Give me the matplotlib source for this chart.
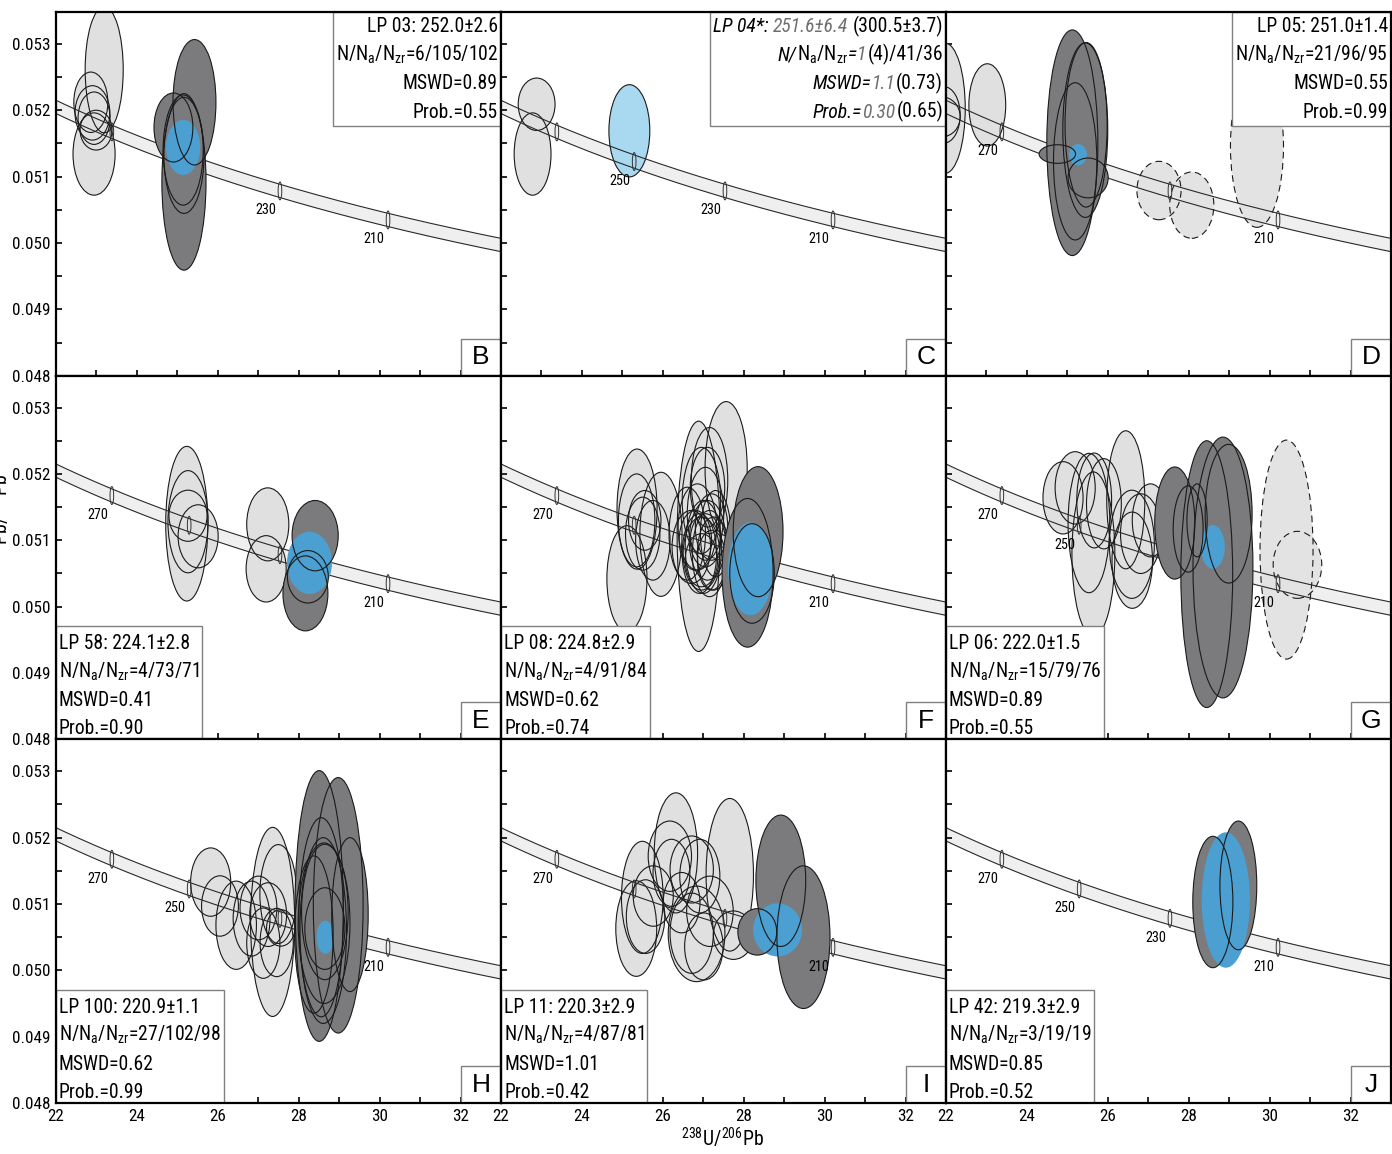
import numpy as np
import matplotlib
matplotlib.use("Agg")
import matplotlib.pyplot as plt
from matplotlib import font_manager as fm
from matplotlib.patches import Ellipse, Rectangle
from matplotlib.transforms import offset_copy
from matplotlib.ticker import MultipleLocator, FormatStrFormatter, NullFormatter

# decay constants (1/yr) and 238U/235U, for the Tera-Wasserburg concordia
L238 = 1.55125e-10
L235 = 9.8485e-10
U_RATIO = 137.818
BAND = 0.0001

PANELS = ["B", "C", "D", "E", "F", "G", "H", "I", "J"]

# ellipses: (238U/206Pb, 207Pb/206Pb, full width in x, full height in y)
B_LIGHT = [(23.19, 0.05261, 0.94, 0.00190), (22.94, 0.05134, 1.04, 0.00124),
           (22.86, 0.05212, 0.84, 0.00091), (22.90, 0.05196, 0.86, 0.00082),
           (22.94, 0.05188, 0.79, 0.00079), (22.99, 0.05170, 0.79, 0.00060)]
B_DARK = [(25.16, 0.05092, 1.09, 0.00266), (25.42, 0.05212, 1.06, 0.00189),
          (24.90, 0.05174, 0.96, 0.00104), (25.14, 0.05140, 0.99, 0.00166),
          (25.16, 0.05132, 0.99, 0.00175)]
C_LIGHT = [(22.78, 0.05134, 0.91, 0.00124), (22.88, 0.05209, 0.91, 0.00079)]
C_DARK = []
D_LIGHT = [(21.98, 0.05203, 0.99, 0.00196), (21.95, 0.05193, 0.80, 0.00085),
           (21.90, 0.05190, 0.90, 0.00060), (23.02, 0.05208, 0.91, 0.00124)]
D_DASHED = [(27.26, 0.05079, 1.09, 0.00088), (28.07, 0.05057, 1.09, 0.00100),
            (29.68, 0.05146, 1.31, 0.00245)]
D_DARK = [(24.75, 0.05134, 0.90, 0.00028), (25.12, 0.05151, 1.26, 0.00340),
          (25.19, 0.05123, 1.07, 0.00237), (25.44, 0.05170, 1.11, 0.00263),
          (25.46, 0.05178, 1.04, 0.00248), (25.51, 0.05098, 0.99, 0.00060)]
E_LIGHT = [(25.23, 0.05125, 1.04, 0.00233), (25.26, 0.05128, 0.99, 0.00154),
           (25.26, 0.05137, 0.94, 0.00077), (25.51, 0.05106, 0.99, 0.00095),
           (27.23, 0.05124, 1.04, 0.00110), (27.19, 0.05057, 0.99, 0.00100)]
E_DARK = [(28.40, 0.05107, 1.14, 0.00106), (28.16, 0.05020, 1.11, 0.00113),
          (28.22, 0.05045, 1.01, 0.00079)]
F_LIGHT = [(25.36, 0.05147, 0.99, 0.00181), (25.11, 0.05042, 0.99, 0.00160),
           (25.95, 0.05109, 1.04, 0.00187), (25.35, 0.05130, 0.90, 0.00140),
           (25.50, 0.05110, 0.85, 0.00110), (25.55, 0.05130, 0.80, 0.00090),
           (25.75, 0.05100, 0.85, 0.00120), (27.56, 0.05208, 1.04, 0.00202),
           (26.88, 0.05106, 1.06, 0.00347),
           (26.95, 0.05160, 0.95, 0.00160), (27.05, 0.05140, 0.90, 0.00140),
           (26.85, 0.05120, 0.95, 0.00130), (27.10, 0.05100, 0.90, 0.00120),
           (26.90, 0.05080, 0.85, 0.00120), (27.15, 0.05080, 0.85, 0.00130),
           (27.00, 0.05090, 0.90, 0.00140), (26.70, 0.05090, 0.95, 0.00110),
           (27.20, 0.05120, 0.80, 0.00100), (26.80, 0.05100, 0.80, 0.00090),
           (27.05, 0.05100, 0.75, 0.00080), (27.25, 0.05080, 0.80, 0.00110),
           (26.95, 0.05080, 0.90, 0.00110), (27.30, 0.05110, 0.75, 0.00130),
           (26.60, 0.05110, 0.90, 0.00140), (27.10, 0.05180, 0.85, 0.00120),
           (26.95, 0.05070, 0.80, 0.00080), (27.20, 0.05070, 0.70, 0.00090),
           (27.15, 0.05190, 0.90, 0.00160)]
F_DARK = [(28.09, 0.05051, 1.26, 0.00224), (28.35, 0.05113, 1.23, 0.00196),
          (28.20, 0.05050, 1.10, 0.00150)]
G_LIGHT = [(25.64, 0.05079, 1.06, 0.00248), (26.44, 0.05161, 0.94, 0.00208),
           (24.89, 0.05164, 0.99, 0.00109), (25.19, 0.05179, 0.99, 0.00109),
           (25.53, 0.05126, 1.03, 0.00210), (25.66, 0.05160, 0.86, 0.00143),
           (25.90, 0.05155, 0.86, 0.00136), (26.59, 0.05094, 1.11, 0.00163),
           (26.60, 0.05070, 1.00, 0.00145), (26.81, 0.05110, 1.00, 0.00120),
           (27.05, 0.05130, 0.90, 0.00110)]
G_DASHED = [(30.41, 0.05086, 1.31, 0.00330), (30.68, 0.05063, 1.20, 0.00101)]
G_DARK = [(27.65, 0.05126, 0.99, 0.00169), (27.98, 0.05117, 0.74, 0.00130),
          (28.20, 0.05130, 0.50, 0.00110), (28.44, 0.05049, 1.28, 0.00402),
          (28.84, 0.05059, 1.48, 0.00393), (28.98, 0.05140, 1.16, 0.00209)]
H_LIGHT = [(25.82, 0.05133, 0.99, 0.00103), (26.05, 0.05097, 0.91, 0.00091),
           (26.45, 0.05068, 1.00, 0.00133), (26.83, 0.05078, 0.91, 0.00113),
           (27.00, 0.05094, 0.91, 0.00096), (27.35, 0.05073, 1.09, 0.00285),
           (27.12, 0.05041, 0.82, 0.00106), (27.49, 0.05115, 0.91, 0.00149),
           (27.45, 0.05042, 0.82, 0.00103), (27.24, 0.05084, 0.91, 0.00096),
           (27.55, 0.05064, 0.70, 0.00055)]
H_DARK = [(28.50, 0.05097, 1.19, 0.00408), (28.97, 0.05098, 1.23, 0.00385),
          (29.26, 0.05084, 0.90, 0.00232), (28.62, 0.05071, 1.28, 0.00242),
          (28.64, 0.05088, 1.15, 0.00204), (28.64, 0.05063, 0.99, 0.00123),
          (28.37, 0.05054, 0.95, 0.00237), (28.55, 0.05080, 1.10, 0.00300),
          (28.60, 0.05060, 1.15, 0.00280)]
I_LIGHT = [(26.32, 0.05177, 1.07, 0.00181), (27.65, 0.05144, 1.17, 0.00230),
           (25.49, 0.05110, 1.03, 0.00169), (25.34, 0.05063, 1.01, 0.00144),
           (26.83, 0.05055, 1.40, 0.00144), (27.74, 0.05053, 0.99, 0.00073),
           (26.17, 0.05172, 1.07, 0.00106), (26.21, 0.05147, 0.91, 0.00101),
           (26.71, 0.05152, 1.07, 0.00101), (26.91, 0.05142, 0.99, 0.00111),
           (26.46, 0.05102, 0.91, 0.00091), (26.71, 0.05056, 1.07, 0.00121),
           (27.01, 0.05036, 0.95, 0.00101), (25.57, 0.05081, 0.95, 0.00111),
           (25.76, 0.05112, 0.99, 0.00091), (27.16, 0.05089, 1.15, 0.00106)]
I_DARK = [(28.91, 0.05135, 1.23, 0.00198), (29.47, 0.05050, 1.31, 0.00215),
          (28.33, 0.05058, 0.96, 0.00070)]
J_LIGHT = []
J_DARK = [(28.59, 0.05103, 0.99, 0.00198), (29.22, 0.05128, 0.91, 0.00194)]

LIGHT = [B_LIGHT, C_LIGHT, D_LIGHT, E_LIGHT, F_LIGHT, G_LIGHT, H_LIGHT, I_LIGHT, J_LIGHT]
DASHED = [[], [], D_DASHED, [], [], G_DASHED, [], [], []]
DARK = [B_DARK, C_DARK, D_DARK, E_DARK, F_DARK, G_DARK, H_DARK, I_DARK, J_DARK]
# weighted mean ellipse of each panel
MEANS = [(25.14, 0.05144, 0.84, 0.00083), (25.17, 0.05169, 1.01, 0.00139),
         (25.26, 0.05133, 0.44, 0.00032), (28.26, 0.05066, 1.11, 0.00094),
         (28.16, 0.05057, 1.11, 0.00140), (28.59, 0.05090, 0.59, 0.00066),
         (28.65, 0.05050, 0.43, 0.00050), (28.83, 0.05061, 1.21, 0.00080),
         (28.91, 0.05106, 1.19, 0.00204)]

AGE_TICKS = [270, 250, 230, 210]
AGE_LABELS = [[230, 210], [250, 230, 210], [270, 210], [270, 210], [270, 210],
              [270, 250, 210], [270, 250, 210], [270, 210], [270, 250, 230, 210]]

SAMPLES = ["LP 03", "LP 04*", "LP 05", "LP 58", "LP 08", "LP 06", "LP 100", "LP 11", "LP 42"]
AGES = ["252.0±2.6", "251.6±6.4", "251.0±1.4", "224.1±2.8", "224.8±2.9",
        "222.0±1.5", "220.9±1.1", "220.3±2.9", "219.3±2.9"]
COUNTS = ["6/105/102", "1", "21/96/95", "4/73/71", "4/91/84",
          "15/79/76", "27/102/98", "4/87/81", "3/19/19"]
MSWD = ["0.89", "1.1", "0.55", "0.41", "0.62", "0.89", "0.62", "1.01", "0.85"]
PROB = ["0.55", "0.30", "0.99", "0.90", "0.74", "0.55", "0.99", "0.42", "0.52"]
# second (bracketed) solution of LP 04
C_ALT_AGE = "300.5±3.7"
C_ALT_COUNTS = "(4)/41/36"
C_ALT_MSWD = "0.73"
C_ALT_PROB = "0.65"

LIGHT_C = '#e0e0e0'
DARK_C = '#7b7b7d'
BLUE_C = '#4b9fd1'
PALE_BLUE = '#a9d8f1'
EDGE = '#1a1a1a'
NSUB = 'N/N$_a$/N$_{zr}$='

# pick a narrow face if one is installed, else Liberation Sans
fonts = [(f.name, f.stretch) for f in fm.fontManager.ttflist]
names = {n for n, s in fonts}
narrow = None
for cand in ['Liberation Sans Narrow', 'Roboto Condensed', 'Open Sans Condensed',
             'Noto Sans Condensed', 'DejaVu Sans Condensed', 'Arial Narrow']:
    if cand in names:
        narrow = (cand, 'normal')
        break
if narrow is None:
    for n, s in fonts:
        if n in ('DejaVu Sans', 'Noto Sans', 'Roboto', 'Open Sans', 'Liberation Sans') \
                and str(s) in ('condensed', 'semi-condensed', 'extra-condensed'):
            narrow = (n, s)
            break
if narrow is None:
    narrow = ('Liberation Sans', 'normal')
plt.rcParams['font.family'] = [narrow[0], 'DejaVu Sans']
plt.rcParams['font.stretch'] = narrow[1]
plt.rcParams['mathtext.default'] = 'regular'

fig = plt.figure(figsize=(13.92, 11.54), dpi=100)
renderer = fig.canvas.get_renderer()
W, H = 1392.0, 1154.0
COL_X = [56, 501, 946]
ROW_Y = [12, 375.7, 739.4]
AW, AH = 445, 363.7


def fit_size(s, target):
    t = fig.text(0, 0, s, fontsize=10)
    w = t.get_window_extent(renderer).width
    t.remove()
    return 10 * target / w


FS_BOX = min(fit_size('LP 03: 252.0±2.6', 130), 16)
FS_TICK = min(fit_size('0.053', 38), 14)
FS_AGE = min(fit_size('230', 21), 12)
FS_LABEL = min(fit_size('$^{238}$U/$^{206}$Pb', 84), 19)

t = np.linspace(180e6, 300e6, 400)
cx = 1 / np.expm1(L238 * t)
cy = np.expm1(L235 * t) / np.expm1(L238 * t) / U_RATIO


def conc(age):
    tt = age * 1e6
    return 1 / np.expm1(L238 * tt), np.expm1(L235 * tt) / np.expm1(L238 * tt) / U_RATIO


def ellipses(ax, data, fc, z, ls='-'):
    for x, y, w, h in data:
        ax.add_patch(Ellipse((x, y), w, h, fc=fc, ec='none', zorder=z))
    for x, y, w, h in data:
        ax.add_patch(Ellipse((x, y), w, h, fill=False, ec=EDGE, lw=0.8, ls=ls, zorder=z + 0.2))


def text_box(ax, lines, top):
    step = 28.5
    pad = 3
    widths = []
    n = len(lines)
    for i, pieces in enumerate(lines):
        if top:
            x, y = -pad, -(20 + i * step)
            for s, style, color, gap in reversed(pieces):
                tr = offset_copy(ax.transAxes, fig=fig, x=x, y=y, units='dots')
                tx = ax.text(1, 1, s, transform=tr, ha='right', va='baseline',
                             fontsize=FS_BOX, fontstyle=style, color=color, zorder=10)
                x -= tx.get_window_extent(renderer).width + gap
            widths.append(-x)
        else:
            x, y = pad, 5 + (n - 1 - i) * step
            for s, style, color, gap in pieces:
                x += gap
                tr = offset_copy(ax.transAxes, fig=fig, x=x, y=y, units='dots')
                tx = ax.text(0, 0, s, transform=tr, ha='left', va='baseline',
                             fontsize=FS_BOX, fontstyle=style, color=color, zorder=10)
                x += tx.get_window_extent(renderer).width
            widths.append(x)
    bw = (max(widths) + 3) / AW
    bh = (20 + (n - 1) * step + 8) / AH
    xy = (1 - bw, 1 - bh) if top else (0, 0)
    ax.add_patch(Rectangle(xy, bw, bh, transform=ax.transAxes, fc='white',
                           ec='#808080', lw=1, zorder=9))


for k, name in enumerate(PANELS):
    r, c = divmod(k, 3)
    ax = fig.add_axes([COL_X[c] / W, 1 - (ROW_Y[r] + AH) / H, AW / W, AH / H])
    ax.set_xlim(22, 32.99)
    ax.set_ylim(0.048, 0.05348)

    # concordia band
    ax.fill_between(cx, cy - BAND, cy + BAND, color='#efefef', lw=0, zorder=1)
    ellipses(ax, LIGHT[k], LIGHT_C, 2)
    ellipses(ax, DASHED[k], '#e3e3e3', 2, ls=(0, (6, 4)))
    mx, my, mw, mh = MEANS[k]
    if name == 'C':
        ax.add_patch(Ellipse((mx, my), mw, mh, fc=PALE_BLUE, ec=EDGE, lw=0.8, zorder=2.5))
    ax.plot(cx, cy + BAND, color='#2a2a2a', lw=0.8, zorder=3)
    ax.plot(cx, cy - BAND, color='#2a2a2a', lw=0.8, zorder=3)
    for age in AGE_TICKS:
        ax_, ay_ = conc(age)
        ax.add_patch(Ellipse((ax_, ay_), 0.09, 0.00027, fill=False, ec='#333333',
                             lw=0.7, zorder=3.1))
    for age in AGE_LABELS[k]:
        ax_, ay_ = conc(age)
        ax.annotate(str(age), xy=(ax_, ay_), xytext=(-10, -14), textcoords='offset points',
                    ha='center', va='center', fontsize=FS_AGE, zorder=8)

    for x, y, w, h in DARK[k]:
        ax.add_patch(Ellipse((x, y), w, h, fc=DARK_C, ec='none', zorder=4))
    if name != 'C':
        ax.add_patch(Ellipse((mx, my), mw, mh, fc=BLUE_C, ec='none', zorder=4.5))
    for x, y, w, h in DARK[k]:
        ax.add_patch(Ellipse((x, y), w, h, fill=False, ec=EDGE, lw=0.8, zorder=5))

    # ticks
    ax.xaxis.set_major_locator(MultipleLocator(2))
    ax.xaxis.set_minor_locator(MultipleLocator(1))
    ax.yaxis.set_major_locator(MultipleLocator(0.001))
    ax.yaxis.set_minor_locator(MultipleLocator(0.0005))
    ax.tick_params(which='both', direction='in', length=4.5, width=1.2,
                   top=False, right=False, labelsize=FS_TICK, pad=4)
    ax.yaxis.set_major_formatter(FormatStrFormatter('%.3f'))
    if c != 0:
        ax.yaxis.set_major_formatter(NullFormatter())
    if r != 2:
        ax.xaxis.set_major_formatter(NullFormatter())
    for sp in ax.spines.values():
        sp.set_linewidth(1.6)
        sp.set_zorder(12)

    # statistics box
    if name == 'C':
        grey = '#6f6f6f'
        lines = [[(SAMPLES[k] + ':', 'italic', 'k', 0), (AGES[k], 'italic', grey, 5),
                  ('(' + C_ALT_AGE + ')', 'normal', 'k', 4)],
                 [('N/', 'italic', 'k', 0), ('N$_a$/N$_{zr}$', 'normal', 'k', 0),
                  ('=', 'italic', 'k', 0), (COUNTS[k], 'italic', grey, 0),
                  (C_ALT_COUNTS, 'normal', 'k', 1)],
                 [('MSWD=', 'italic', 'k', 0), (MSWD[k], 'italic', grey, 0),
                  ('(' + C_ALT_MSWD + ')', 'normal', 'k', 1)],
                 [('Prob.=', 'italic', 'k', 0), (PROB[k], 'italic', grey, 0),
                  ('(' + C_ALT_PROB + ')', 'normal', 'k', 1)]]
    else:
        lines = [[(SAMPLES[k] + ': ' + AGES[k], 'normal', 'k', 0)],
                 [(NSUB + COUNTS[k], 'normal', 'k', 0)],
                 [('MSWD=' + MSWD[k], 'normal', 'k', 0)],
                 [('Prob.=' + PROB[k], 'normal', 'k', 0)]]
    text_box(ax, lines, top=(r == 0))

    # panel letter
    ax.add_patch(Rectangle((1 - 40 / AW, 0), 40 / AW, 37 / AH, transform=ax.transAxes,
                           fc='white', ec='#808080', lw=1, zorder=9))
    ax.text(1 - 20 / AW, 18.5 / AH, name, transform=ax.transAxes, ha='center',
            va='center', fontsize=19, family=['Liberation Sans', 'DejaVu Sans'],
            fontstretch='normal', zorder=10)

fig.text(723 / W, 1 - 1138 / H, r'$^{238}$U/$^{206}$Pb', ha='center', va='center',
         fontsize=FS_LABEL)
fig.text(0.0, 1 - 520 / H, r'$^{207}$Pb/$^{206}$Pb', rotation=90, ha='center',
         va='center', fontsize=FS_LABEL)

fig.savefig('out.png', dpi=100)
